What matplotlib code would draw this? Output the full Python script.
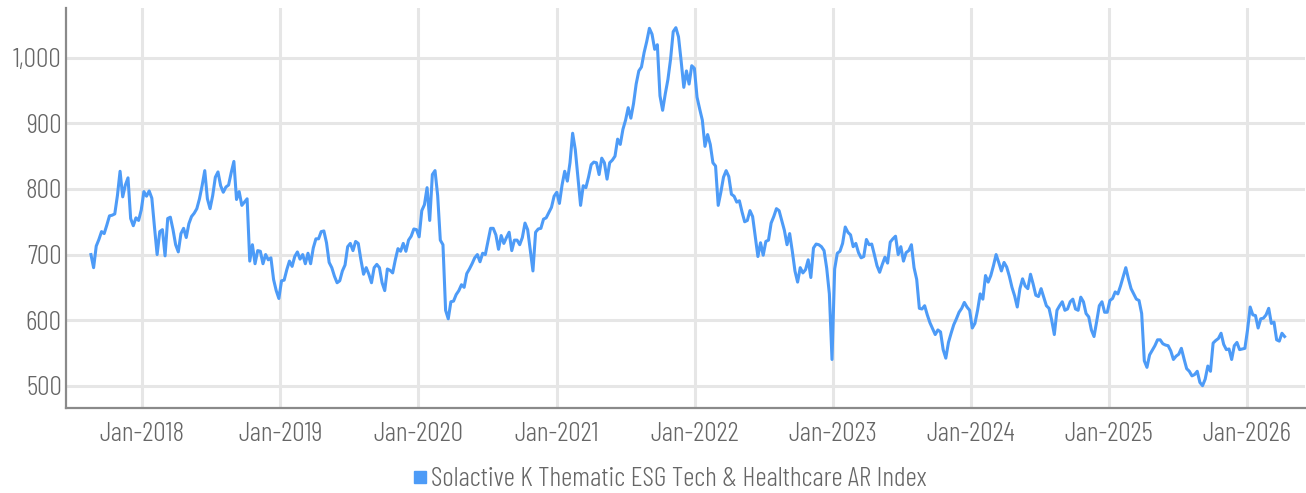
import pandas as pd
import matplotlib.pyplot as plt
import matplotlib.dates as mdates
from matplotlib.lines import Line2D
from matplotlib.ticker import FuncFormatter

plt.rcParams['font.family'] = ['Barlow Condensed', 'DejaVu Sans']
plt.rcParams['font.weight'] = 300

# weekly closes (Fridays)
start_date = "2017-08-18"
index_values = [
    700, 680, 713, 723, 735, 732, 745, 759, 760, 762,
    790, 827, 788, 806, 817, 755, 744, 756, 752, 768,
    796, 789, 797, 786, 742, 700, 735, 738, 698, 755,
    757, 738, 715, 704, 732, 740, 726, 747, 758, 763,
    770, 785, 805, 828, 785, 770, 790, 818, 826, 805,
    795, 803, 806, 825, 842, 784, 796, 775, 780, 785,
    690, 715, 686, 706,
    705, 686, 700, 692, 695, 662, 645, 633, 660, 661,
    677, 690, 682, 697, 704, 693, 700, 686, 702, 686,
    710, 724, 724, 735, 736, 718, 688, 680, 667, 657,
    660, 675, 684, 712, 717, 706, 720, 717, 692, 670,
    680, 670, 657, 680, 685, 680, 657, 645, 678, 676,
    672, 692, 709, 705, 717, 705, 722, 728, 739, 738,
    727, 767, 776, 802, 752, 822, 828, 790,
    722, 715, 615, 602, 628, 629, 639, 645, 654, 650,
    671, 678, 686, 695, 700, 689, 702, 700, 720, 740,
    740, 730, 708, 729, 717, 726, 734, 706, 722, 722,
    715, 726, 748, 738, 706, 675, 734, 739, 740, 754,
    756, 764, 772, 789, 795, 778, 806, 827, 812, 840,
    885, 860, 818, 775, 805, 802, 818, 837, 841, 840,
    822,
    847, 840, 815, 840, 844, 850, 876, 868, 891, 905,
    924, 908, 930, 960, 980, 986, 1008, 1025, 1045, 1036,
    1013, 1020, 942, 920, 945, 967, 998, 1040, 1046, 1032,
    995, 955, 980, 960, 988, 984, 940, 922, 905, 865,
    883, 868, 840, 835, 775, 795, 818, 828, 819, 792,
    789, 780,
    782, 765, 750, 752, 767, 758, 728, 697, 718, 699,
    720, 722, 748, 758, 770, 767, 752, 737, 715, 732,
    705, 675, 658, 680, 672, 677, 692, 665, 710, 716,
    715, 712, 706, 679, 640, 540, 678, 702, 705, 717,
    742, 734, 730, 712, 717, 703, 695, 697, 723, 715,
    716, 700, 683, 673, 685, 696, 687, 719, 724, 728,
    700, 712, 690, 703, 706, 715, 680, 662, 618, 617,
    622, 608, 596, 587, 578, 585, 582, 555, 542, 566,
    580, 593, 602, 612, 618, 627, 620, 615, 588, 595,
    615, 640, 632, 668, 658, 668, 683, 700, 688, 675,
    688, 681, 667, 650, 637, 620, 648, 663, 652, 648,
    670, 655, 638, 636, 648, 635, 622, 618, 600, 578,
    615,
    622, 628, 615, 617, 628, 632, 617, 615, 635, 628,
    610, 605, 585, 575, 598, 622, 628, 612, 612, 630,
    633, 643, 640, 652, 666, 680, 663, 648, 640, 632,
    630, 610, 538, 528, 547, 554, 561, 570, 570, 564,
    562, 561, 553, 540, 545, 548, 557, 541, 526, 522,
    515, 517, 522, 505, 500, 510, 530, 522, 565, 569,
    572, 580, 563, 555, 556, 540, 561, 566, 555, 556,
    557, 585, 620, 608, 607, 588, 602, 603, 608, 618,
    595, 597, 570, 568, 580, 575,
]
series_name = "Solactive K Thematic ESG Tech & Healthcare AR Index"
y_ticks = [500, 600, 700, 800, 900, 1000]

dates = pd.date_range(start_date, periods=len(index_values), freq="W-FRI")

line_color = "#4d9bf7"
grid_color = "#e6e6e6"
spine_color = "#8a8a8a"
text_color = "#666666"

fig = plt.figure(figsize=(13.06, 4.93), dpi=100)
ax = fig.add_axes([66/1306, 1 - 408/493, 1 - 66/1306 - 1/1306, 400/493])

ax.plot(dates, index_values, color=line_color, linewidth=2.2, zorder=3)

ax.set_xlim(pd.Timestamp("2017-06-13"), pd.Timestamp("2026-06-03"))
ax.set_ylim(466, 1076)

ax.xaxis.set_major_locator(mdates.YearLocator())
ax.xaxis.set_major_formatter(mdates.DateFormatter("%b-%Y"))
ax.set_yticks(y_ticks)
ax.yaxis.set_major_formatter(FuncFormatter(lambda v, p: f"{int(v):,}"))

ax.grid(True, color=grid_color, linewidth=2.2)
ax.set_axisbelow(True)
ax.tick_params(length=0, labelsize=20, labelcolor=text_color)
ax.tick_params(axis="x", pad=10)
ax.tick_params(axis="y", pad=3)

for side in ("top", "right"):
    ax.spines[side].set_visible(False)
for side in ("left", "bottom"):
    ax.spines[side].set_color(spine_color)
    ax.spines[side].set_linewidth(1.6)

handle = Line2D([], [], marker="s", linestyle="none", markersize=9,
                markerfacecolor=line_color, markeredgecolor=line_color)
fig.legend([handle], [series_name], loc="center",
           bbox_to_anchor=(0.513, 0.028), frameon=False, fontsize=20,
           labelcolor=text_color, handlelength=0.5, handletextpad=0.15)

fig.savefig("out.png", dpi=100)
